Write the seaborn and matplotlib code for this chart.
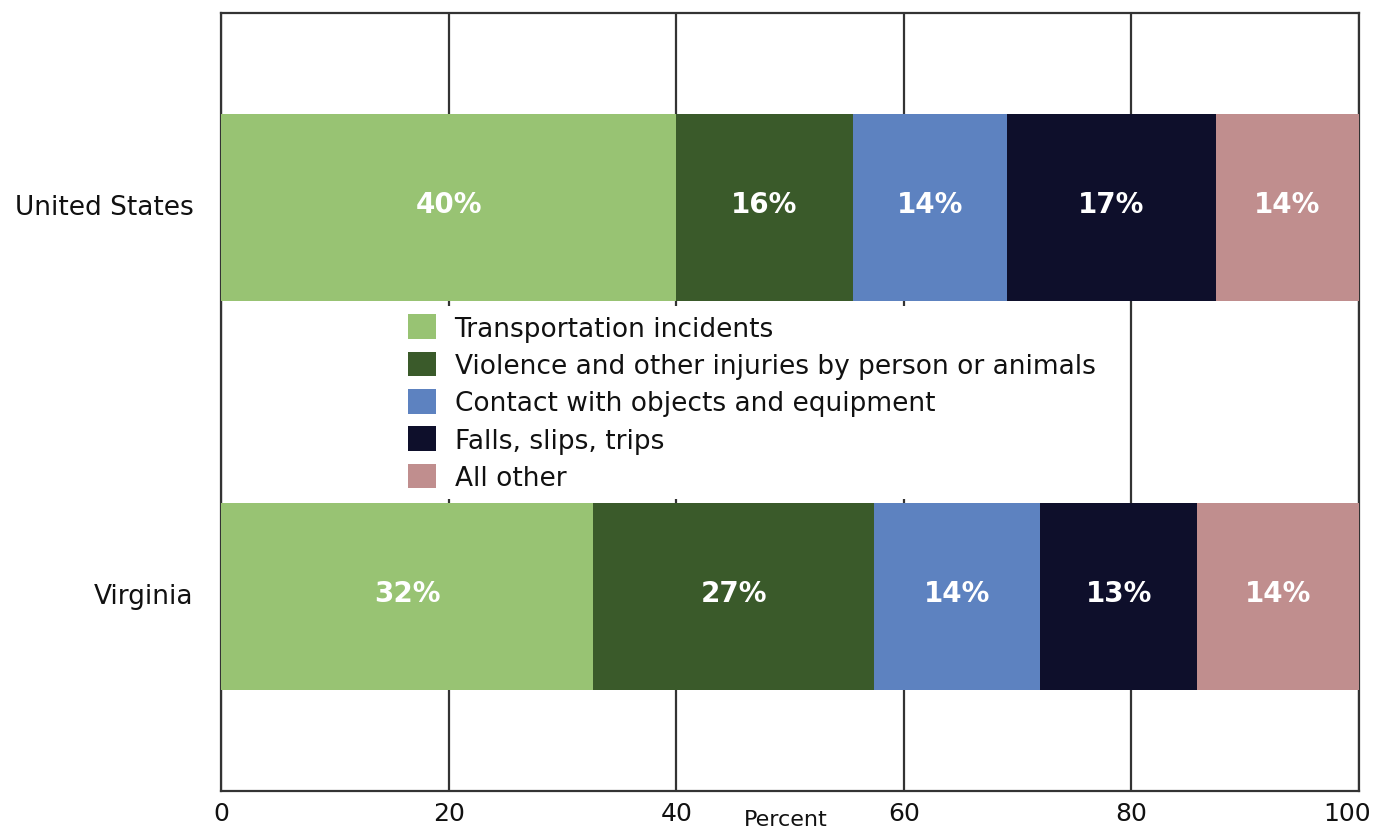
import pandas as pd
import seaborn as sns
import matplotlib.pyplot as plt
import matplotlib.transforms as mtransforms
from matplotlib.patches import Patch

# === Data ===
regions = ["United States", "Virginia"]
causes = [
    "Transportation incidents",
    "Violence and other injuries by person or animals",
    "Contact with objects and equipment",
    "Falls, slips, trips",
    "All other",
]
# bar widths as drawn (percent)
us_values = [40.0, 15.5, 13.6, 18.3, 12.6]
va_values = [32.7, 24.7, 14.6, 13.8, 14.2]
# printed labels inside segments
us_labels = ["40%", "16%", "14%", "17%", "14%"]
va_labels = ["32%", "27%", "14%", "13%", "14%"]
colors = ["#98c373", "#3a5a2a", "#5d82c0", "#0e0f2b", "#c08e8e"]
x_ticks = [0, 20, 40, 60, 80, 100]

# === Build long table with cumulative ends ===
rows = []
for region, vals, labs in [("United States", us_values, us_labels),
                           ("Virginia", va_values, va_labels)]:
    end = 0
    for cause, v, lab in zip(causes, vals, labs):
        end += v
        rows.append({"region": region, "cause": cause, "value": v,
                     "end": end, "label": lab})
df = pd.DataFrame(rows)

sns.set_style("white")
plt.rcParams["font.family"] = ["DejaVu Sans"]

fig = plt.figure(figsize=(13.79, 8.29), dpi=100)
ax = fig.add_axes([0.1603, 0.0446, 0.8252, 0.9385])

# stacked bars: draw cumulative ends from last to first so earlier segments overlay
for cause, color in reversed(list(zip(causes, colors))):
    sub = df[df["cause"] == cause]
    sns.barplot(data=sub, x="end", y="region", order=regions, orient="h",
                color=color, width=0.48, saturation=1, linewidth=0,
                edgecolor="none", ax=ax, zorder=3)

# segment labels (text sits a few px above bar centre, as in the original)
up = mtransforms.ScaledTranslation(0, 4 / 100, fig.dpi_scale_trans)
for i, region in enumerate(regions):
    sub = df[df["region"] == region]
    for _, r in sub.iterrows():
        ax.text(r["end"] - r["value"] / 2, i, r["label"], color="white",
                fontsize=20, fontweight="bold", ha="center", va="center",
                zorder=4, transform=ax.transData + up)

ax.set_xlim(0, 100)
ax.set_ylim(1.5, -0.5)
ax.set_xticks(x_ticks)
ax.set_xticklabels([str(t) for t in x_ticks], fontsize=18, color="#111111")
ax.tick_params(axis="x", length=0, pad=7)
ax.tick_params(axis="y", length=0, pad=20, labelsize=19, labelcolor="#111111")
# pull "100" back inside the figure
last = ax.get_xticklabels()[-1]
last.set_transform(last.get_transform() +
                   mtransforms.ScaledTranslation(-12 / 100, 0, fig.dpi_scale_trans))
for lab in ax.get_yticklabels():
    lab.set_transform(lab.get_transform() + up)

ax.set_ylabel("")
ax.set_xlabel("Percent", fontsize=16, color="#111111")
ax.xaxis.set_label_coords(0.4965, -0.036)
ax.xaxis.label.set_va("center")

ax.set_axisbelow(True)
ax.grid(axis="x", color="#333333", linewidth=1.6)
ax.grid(axis="y", visible=False)
for s in ax.spines.values():
    s.set_visible(True)
    s.set_color("#333333")
    s.set_linewidth(1.6)

handles = [Patch(facecolor=c, edgecolor="none", label=l) for c, l in zip(colors, causes)]
leg = ax.legend(handles=handles, loc="upper left", bbox_to_anchor=(0.157, 0.623),
                frameon=True, fontsize=19, handlelength=1.06, handleheight=1.06,
                handletextpad=0.72, labelspacing=0.38, borderpad=0.3,
                borderaxespad=0, fancybox=False, framealpha=1)
leg.get_frame().set_facecolor("white")
leg.get_frame().set_edgecolor("none")
for t in leg.get_texts():
    t.set_color("#111111")

plt.savefig("out.png", dpi=100)
plt.close()
